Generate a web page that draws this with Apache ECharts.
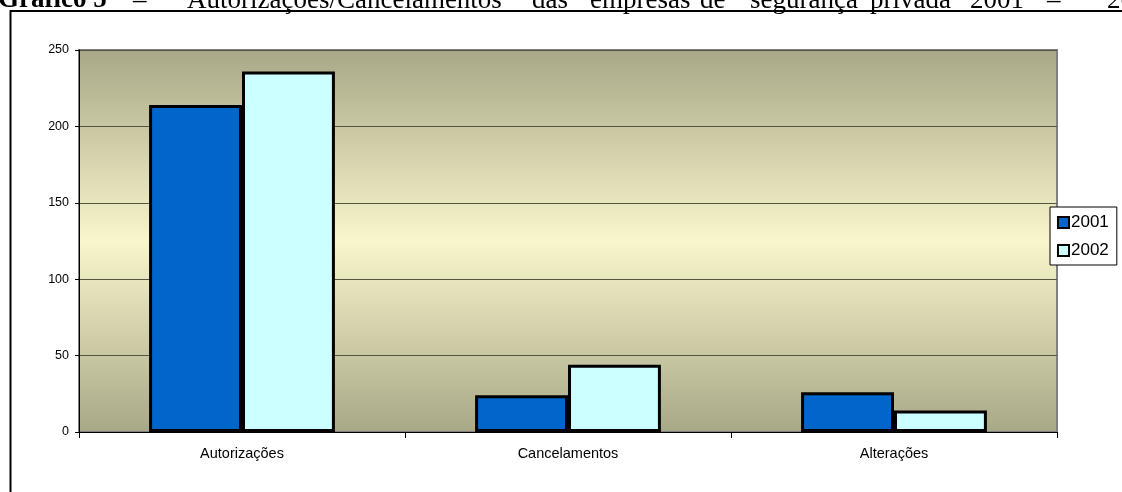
<!DOCTYPE html>
<html>
<head>
<meta charset="utf-8">
<style>
  html, body { margin: 0; padding: 0; background: #fff; }
  #chart { width: 1122px; height: 492px; }
</style>
<script src="https://cdn.jsdelivr.net/npm/echarts@6/dist/echarts.min.js"></script>
</head>
<body>
<div id="chart"></div>
<script>
const categories = ["Autorizações", "Cancelamentos", "Alterações"];
const seriesNames = ["2001", "2002"];
const values2001 = [214, 24, 26];
const values2002 = [236, 44, 14];
const titleWords = ["Gráfico 5", "–", "Autorizações/Cancelamentos", "das", "empresas", "de", "segurança", "privada", "2001", "–", "2002"];

const chart = echarts.init(document.getElementById("chart"), null, { renderer: "canvas" });

// title sits half cut off at the top, justified like the source document
const titleX = [-2, 133, 187, 532, 590, 700, 750, 870, 970, 1047, 1107];
const titleGraphics = titleWords.map((w, i) => ({
  type: "text",
  left: titleX[i],
  top: -13,
  style: {
    text: w,
    font: (i === 0 ? "bold " : "") + "27px 'Liberation Serif'",
    fill: "#000",
  },
}));

const option = {
  animation: false,
  color: ["#0066CC", "#CCFFFF"],
  grid: {
    left: 79,
    right: 65,
    top: 50,
    bottom: 60,
    show: true,
    borderColor: "#808080",
    borderWidth: 2,
    backgroundColor: {
      type: "linear", x: 0, y: 0, x2: 0, y2: 1,
      colorStops: [
        { offset: 0, color: "#a8a787" },
        { offset: 0.5, color: "#f8f6cb" },
        { offset: 1, color: "#a8a787" },
      ],
    },
  },
  legend: {
    data: seriesNames,
    orient: "vertical",
    left: 1050,
    top: 207,
    backgroundColor: "#fff",
    borderColor: "#000",
    borderWidth: 1,
    borderRadius: 0,
    padding: [7, 8, 6, 7],
    itemWidth: 11,
    itemHeight: 11,
    itemGap: 11,
    icon: "rect",
    textStyle: { fontFamily: "Liberation Sans", fontSize: 17, color: "#000", padding: [0, 0, 0, -3] },
  },
  xAxis: {
    type: "category",
    data: categories,
    axisLine: { lineStyle: { color: "#000", width: 1 } },
    axisTick: { show: true, length: 6, lineStyle: { color: "#000" } },
    axisLabel: { color: "#000", fontFamily: "Liberation Sans", fontSize: 14.5, margin: 14 },
  },
  yAxis: {
    type: "value",
    min: 0,
    max: 250,
    interval: 50,
    axisLine: { show: true, lineStyle: { color: "#000", width: 1 } },
    axisTick: { show: true, length: 4, lineStyle: { color: "#000" } },
    axisLabel: { color: "#000", fontFamily: "Liberation Sans", fontSize: 12.5, margin: 10 },
    splitLine: { lineStyle: { color: "#55543f", width: 1 } },
  },
  series: [
    {
      name: seriesNames[0],
      type: "bar",
      data: values2001,
      barGap: "0%",
      barCategoryGap: "43%",
      itemStyle: { borderColor: "#000", borderWidth: 3 },
    },
    {
      name: seriesNames[1],
      type: "bar",
      data: values2002,
      barGap: "0%",
      barCategoryGap: "43%",
      itemStyle: { borderColor: "#000", borderWidth: 3 },
    },
  ],
  graphic: [
    {
      // page frame: only the left and top edges fall inside the picture
      type: "rect",
      shape: { x: 10.5, y: 11, width: 1200, height: 600 },
      style: { fill: "none", stroke: "#000", lineWidth: 2 },
      silent: true,
      z: -1,
    },
    ...titleGraphics,
  ],
};

chart.setOption(option);
</script>
</body>
</html>
